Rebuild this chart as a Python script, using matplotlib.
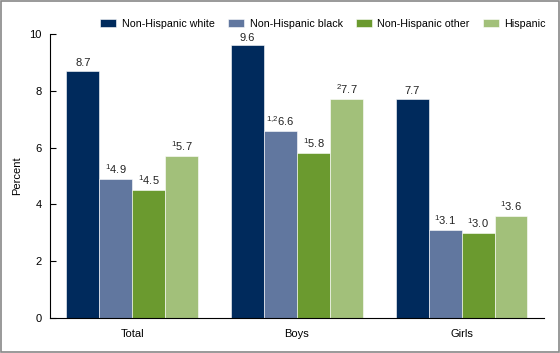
import matplotlib
matplotlib.use('Agg')
import matplotlib.pyplot as plt
import numpy as np

plt.rcParams['font.family'] = ['Liberation Sans', 'DejaVu Sans']
plt.rcParams['mathtext.fontset'] = 'custom'
plt.rcParams['mathtext.rm'] = 'Liberation Sans'
plt.rcParams['mathtext.it'] = 'Liberation Sans'
plt.rcParams['mathtext.default'] = 'regular'

# Data
groups = ['Total', 'Boys', 'Girls']
series = ['Non-Hispanic white', 'Non-Hispanic black', 'Non-Hispanic other', 'Hispanic']
white = [8.7, 9.6, 7.7]
black = [4.9, 6.6, 3.1]
other = [4.5, 5.8, 3.0]
hispanic = [5.7, 7.7, 3.6]
notes_white = ['', '', '']
notes_black = ['1', '1{,}2', '1']
notes_other = ['1', '1', '1']
notes_hispanic = ['1', '2', '1']

values = [white, black, other, hispanic]
notes = [notes_white, notes_black, notes_other, notes_hispanic]
colors = ['#002A5C', '#61779F', '#6B9A2F', '#A2C07A']

fig = plt.figure(figsize=(5.6, 3.53), dpi=100)
ax = fig.add_axes([0.0893, 0.0992, 0.882, 0.8045])

x = np.arange(len(groups))
width = 0.2
for i, (vals, nts, col, name) in enumerate(zip(values, notes, colors, series)):
    pos = x + (i - 1.5) * width
    bars = ax.bar(pos, vals, width, color=col, label=name,
                  edgecolor='white', linewidth=0.4)
    for bar, v, n in zip(bars, vals, nts):
        label = f"{v:.1f}" if not n else f"$^{{{n}}}${v:.1f}"
        ax.text(bar.get_x() + bar.get_width() / 2, v + 0.1, label,
                ha='center', va='bottom', fontsize=8, color='#222222')

ax.set_xlim(-0.5, 2.5)
ax.set_ylim(0, 10)
ax.set_yticks(range(0, 11, 2))
ax.set_xticks(x)
ax.set_xticklabels(groups)
ax.tick_params(axis='x', length=0, labelsize=8, pad=8)
ax.tick_params(axis='y', direction='in', length=4, labelsize=8, pad=6)
ax.set_ylabel('Percent', fontsize=8, labelpad=5)
for s in ['top', 'right']:
    ax.spines[s].set_visible(False)
ax.spines['left'].set_linewidth(0.8)
ax.spines['bottom'].set_linewidth(0.8)

ax.legend(loc='lower center', bbox_to_anchor=(0.553, 1.0), ncol=4, frameon=False,
          fontsize=7.7, handlelength=1.5, handleheight=0.8, columnspacing=1.2,
          handletextpad=0.55, borderaxespad=0.1)

fig.patches.append(plt.Rectangle((0.002, 0.003), 0.996, 0.994, transform=fig.transFigure,
                                 fill=False, edgecolor='#888888', linewidth=1.2))

plt.savefig('out.png', dpi=100, facecolor='white')
